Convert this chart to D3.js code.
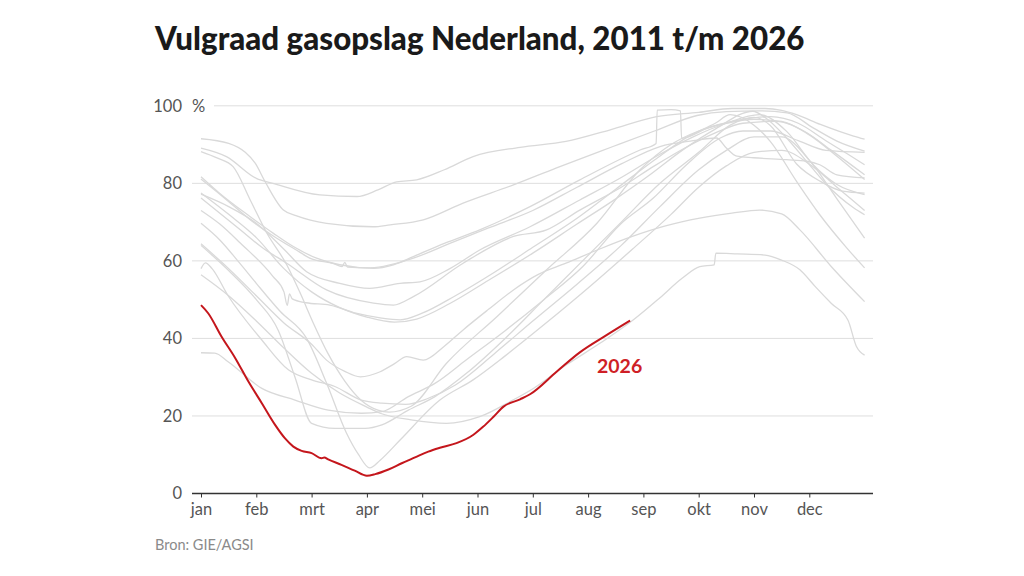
<!DOCTYPE html>
<html>
<head>
<meta charset="utf-8">
<script src="https://cdn.jsdelivr.net/npm/d3@7"></script>
<style>
  body { margin: 0; background: #fff; }
  svg { display: block; font-family: Lato, "Noto Sans", sans-serif; }
</style>
</head>
<body>
<svg width="1024" height="576"></svg>
<script>
// Month labels on the x axis (position = month index, 0 = 1 jan)
var months = ["jan", "feb", "mrt", "apr", "mei", "jun", "jul", "aug", "sep", "okt", "nov", "dec"];
var yTicks = [0, 20, 40, 60, 80, 100];

// Fill level (%) per year, as [month position, value]
var y2011 = [[0,76.2],[0.71,68],[1.1,63.5],[1.55,59.4],[2.27,52.5],[3.12,49.1],[3.48,48.6],[3.84,50.8],[4.74,59.4],[5.65,66.3],[6.25,68],[6.85,73.1],[7.6,79],[8.2,84.5],[8.8,89.5],[9.3,93],[9.8,95.5],[10.4,96],[10.9,93.5],[11.4,88.5],[12,82.2]];
var y2012 = [[0,88.2],[0.3,86.5],[0.58,84.3],[0.89,75.7],[1.19,67.2],[1.55,59],[1.8,51.5],[2.03,44],[2.3,36],[2.6,29],[2.9,24],[3.2,21.5],[3.4,21],[3.8,22.5],[4.44,33.6],[5.35,45.6],[6.25,57.7],[7.16,69.7],[7.94,83.5],[8.5,90],[9,93.5],[9.5,95.5],[10,96.5],[10.5,96],[11,92.5],[11.5,87],[12,81]];
var y2013 = [[0,69.7],[0.34,65.4],[0.7,59.4],[1,54.2],[1.43,47],[1.91,40],[2.27,28.5],[2.63,15.6],[2.85,10],[3.05,6.6],[3.24,8.6],[3.6,13.8],[4.32,24.1],[4.92,29.3],[5.5,35.5],[6.2,43.5],[7,53],[7.8,63],[8.5,72],[9,79],[9.5,84.5],[10,88],[10.5,88.5],[11,85],[11.5,79],[12,73]];
var y2014 = [[0,73],[0.34,69.5],[0.71,64.6],[1.3,56],[1.5,52],[1.56,48.5],[1.6,51.5],[1.65,50.2],[1.9,49.2],[2.33,48.6],[2.8,46.5],[3.24,45.3],[3.6,44.8],[4,46.5],[4.6,51],[5.3,57],[6,63.5],[6.8,71],[7.5,78.5],[8.2,86],[8.8,92],[9.3,95.5],[9.57,97.7],[10,95],[10.29,90.9],[10.77,80.5],[11.19,71.9],[11.68,63.3],[12,58.2]];
var y2015 = [[0,81.7],[0.34,77.4],[0.89,71.4],[1.31,67.1],[1.67,63.7],[2.09,60.7],[2.51,59],[3.12,58.1],[3.48,59],[3.84,61.1],[4.4,64.5],[5.04,68],[5.95,74],[6.85,80.9],[7.94,88.6],[8.23,90.3],[8.25,98.9],[8.5,99],[8.67,98.7],[8.69,91.6],[9.2,94.5],[9.8,96.5],[10.3,97.2],[10.8,95.5],[11.3,91],[11.7,87.5],[12,84.8]];
var y2016 = [[0,58],[0.08,59.5],[0.2,58],[0.49,51],[1.1,39.6],[1.58,31.9],[2,29.3],[2.42,27.6],[2.9,24.1],[3.27,23.3],[3.7,23],[4.1,24.5],[4.6,28],[5.3,36],[6,44.5],[6.8,54],[7.6,64],[8.3,74],[9,83.5],[9.5,88.5],[10,92],[10.5,92],[11,86],[11.5,76],[12,65.9]];
var y2017 = [[0,77.2],[0.5,74],[1,69.7],[1.5,63],[1.91,57.2],[2.51,54.2],[3.05,52.9],[3.6,54.2],[3.96,54.6],[4.5,58],[5.04,62.8],[5.95,68.8],[6.85,75.7],[7.6,81.5],[8.3,87.5],[8.9,92],[9.5,95.5],[10.1,97.7],[10.59,93.4],[11.07,84.8],[11.5,79.7],[12,77.1]];
var y2018 = [[0,64],[0.5,57.5],[1,50],[1.4,42],[1.7,30],[2,18.1],[2.42,16.8],[2.97,16.8],[3.27,17.7],[3.75,21.5],[4.23,25],[4.8,31],[5.5,40],[6.2,50],[6.9,60],[7.6,70],[8.3,80],[9,88],[9.57,95],[10,97],[10.29,95],[10.77,85],[11.2,80.5],[11.6,78],[12,77.5]];
var y2019 = [[0,77.5],[0.5,72],[1,66],[1.5,58],[2,52],[2.5,48],[3,45.5],[3.5,44.2],[3.9,45],[4.5,49],[5.2,55],[6,62],[6.8,69.5],[7.5,76],[8.1,82],[8.7,88.5],[9.3,94],[9.98,98.6],[10.2,97],[10.59,91.7],[10.95,85.7],[11.31,79.7],[11.8,73.7],[12,71.9]];
var y2020 = [[0,89.1],[0.46,86.9],[1,81.3],[1.3,80],[2.15,77],[2.82,76.6],[3.2,78.3],[3.54,80.4],[3.9,80.9],[4.4,83.5],[4.92,86.9],[5.77,89.3],[6.6,90.8],[7.4,93.8],[8.24,97.2],[9,98.3],[9.6,99.3],[10.2,99.3],[10.5,98.8],[10.77,97.7],[11.2,95.2],[11.8,92.2],[12,91.4]];
var y2021 = [[0,56.4],[0.5,51],[1,44.5],[1.5,37.5],[2,31],[2.5,26],[3,22.3],[3.24,20.7],[3.8,19],[4.44,18.1],[5.04,19.8],[5.64,24.1],[6.01,27.1],[6.61,33.2],[7.22,38.8],[7.82,44.8],[8.3,50.5],[8.7,55.5],[9.02,58.5],[9.28,59],[9.31,62],[9.7,61.8],[10.2,61.5],[10.5,60.2],[10.83,57.7],[11.1,53.5],[11.4,49],[11.7,44.7],[11.85,38],[12,35.7]];
var y2022 = [[0,36.3],[0.25,36.2],[0.49,34],[1.1,27.1],[1.7,24.1],[2.3,21.5],[2.9,20.7],[3.27,21.1],[3.75,25],[4.23,28.4],[4.8,34.5],[5.5,42],[6.2,50],[6.9,58.5],[7.58,69.4],[8.18,76.2],[8.78,84.8],[9.39,91.7],[9.8,93.5],[10.3,93.5],[10.8,91],[11.3,88.5],[12,88]];
var y2023 = [[0,81.1],[0.4,76.5],[0.9,70.5],[1.3,66.5],[1.7,63],[2,60.5],[2.4,59.3],[2.55,58.5],[2.6,59.6],[2.65,58.4],[3,58.2],[3.3,58.6],[3.8,60.5],[4.5,64.5],[5.2,68.5],[6,73],[6.8,79],[7.6,85],[8.3,89.5],[8.9,91],[9.32,91.7],[9.5,89.1],[9.69,87],[9.99,86.6],[10.59,86.1],[10.95,85.7],[11.19,84.8],[11.5,82.2],[12,81.4]];
var y2024 = [[0,91.5],[0.5,90.3],[0.8,88],[0.98,85.2],[1.16,80.4],[1.49,73.1],[1.73,71.6],[2.27,69.7],[3.11,68.8],[3.42,69.3],[4.02,70.6],[4.74,74.9],[5.65,79.6],[6.43,84],[7.45,89.5],[8.2,93.5],[8.97,97.5],[9.5,98.5],[10.1,98.7],[10.6,98.2],[11.07,94.3],[11.5,90.9],[12,88.3]];
var y2025 = [[0,64.4],[0.5,58],[1,51],[1.5,44],[2,38.5],[2.27,34.4],[2.6,31.5],[2.88,30.1],[3.24,31.4],[3.5,33.5],[3.72,35.3],[4.02,34.4],[4.4,38],[4.74,42.2],[5.2,47.5],[5.65,52.5],[6.1,56.5],[6.6,59.4],[7.2,63],[7.8,66.3],[8.4,69],[9.02,71],[9.6,72.3],[10.1,73.1],[10.5,72.1],[10.83,68],[11.4,58.5],[12,49.5]];
var y2026 = [[0,48.6],[0.13,46.5],[0.37,40.5],[0.62,34.9],[0.86,28.8],[1.1,23.3],[1.34,17.7],[1.52,14.2],[1.67,12.1],[1.82,11],[2,10.4],[2.18,9.1],[2.23,9.3],[2.3,8.8],[2.54,7.4],[2.78,5.9],[3,4.6],[3.15,5],[3.39,6.2],[3.63,7.8],[3.87,9.3],[4.11,10.8],[4.32,11.8],[4.62,13],[4.92,15.1],[5.1,17.2],[5.29,19.8],[5.47,22.4],[5.77,24.3],[5.95,25.6],[6.43,31.4],[6.85,36.4],[7.34,40.9],[7.76,44.6]];

var pastYears = [y2011, y2012, y2013, y2014, y2015, y2016, y2017, y2018, y2019, y2020, y2021, y2022, y2023, y2024, y2025];

var svg = d3.select("svg");

// Scales: one equal step per month
var x = d3.scaleLinear().domain([0, 12]).range([201, 864.6]);
var y = d3.scaleLinear().domain([0, 100]).range([493.5, 105.8]);

// Title
svg.append("text")
    .attr("x", 155)
    .attr("y", 50)
    .attr("font-size", 31.3)
    .attr("font-weight", 900)
    .attr("fill", "#1a1a1a")
    .text("Vulgraad gasopslag Nederland, 2011 t/m 2026");

// Gridlines
svg.append("g")
    .selectAll("line")
    .data(yTicks.filter(function(d) { return d > 0; }))
    .enter()
    .append("line")
    .attr("x1", function(d) { return d == 100 ? 214 : 192; })
    .attr("x2", 873)
    .attr("y1", function(d) { return y(d); })
    .attr("y2", function(d) { return y(d); })
    .attr("stroke", "#dedede")
    .attr("stroke-width", 1);

// Y labels
svg.append("g")
    .selectAll("text")
    .data(yTicks)
    .enter()
    .append("text")
    .attr("x", 182)
    .attr("y", function(d) { return y(d); })
    .attr("dy", "0.35em")
    .attr("text-anchor", "end")
    .attr("font-size", 16.5)
    .attr("fill", "#555")
    .text(function(d) { return d; });

svg.append("text")
    .attr("x", 192)
    .attr("y", y(100))
    .attr("dy", "0.35em")
    .attr("font-size", 16.5)
    .attr("fill", "#555")
    .text("%");

// Lines
var line = d3.line()
    .x(function(d) { return x(d[0]); })
    .y(function(d) { return y(d[1]); })
    .curve(d3.curveMonotoneX);

svg.append("g")
    .selectAll("path")
    .data(pastYears)
    .enter()
    .append("path")
    .attr("d", line)
    .attr("fill", "none")
    .attr("stroke", "#d9d9d9")
    .attr("stroke-width", 1.3);

svg.append("path")
    .datum(y2026)
    .attr("d", line)
    .attr("fill", "none")
    .attr("stroke", "#c4161c")
    .attr("stroke-width", 2);

svg.append("text")
    .attr("x", 597)
    .attr("y", 373)
    .attr("font-size", 19.5)
    .attr("font-weight", 700)
    .attr("fill", "#cf1f26")
    .text("2026");

// X axis
var xAxis = d3.axisBottom(x)
    .tickValues(d3.range(12))
    .tickFormat(function(d) { return months[d]; })
    .tickSize(4)
    .tickSizeOuter(0)
    .tickPadding(6);

var gx = svg.append("g")
    .attr("transform", "translate(0," + y(0) + ")")
    .call(xAxis);

gx.select(".domain").remove();
gx.append("line")
    .attr("x1", 192)
    .attr("x2", 873)
    .attr("stroke", "#333")
    .attr("stroke-width", 1.5);
gx.selectAll(".tick line").attr("stroke", "#333");
gx.selectAll(".tick text")
    .attr("font-family", "Lato, 'Noto Sans', sans-serif")
    .attr("font-size", 16.5)
    .attr("fill", "#555");

// Source
svg.append("text")
    .attr("x", 155)
    .attr("y", 550)
    .attr("font-size", 14.5)
    .attr("fill", "#8a8a8a")
    .text("Bron: GIE/AGSI");
</script>
</body>
</html>
